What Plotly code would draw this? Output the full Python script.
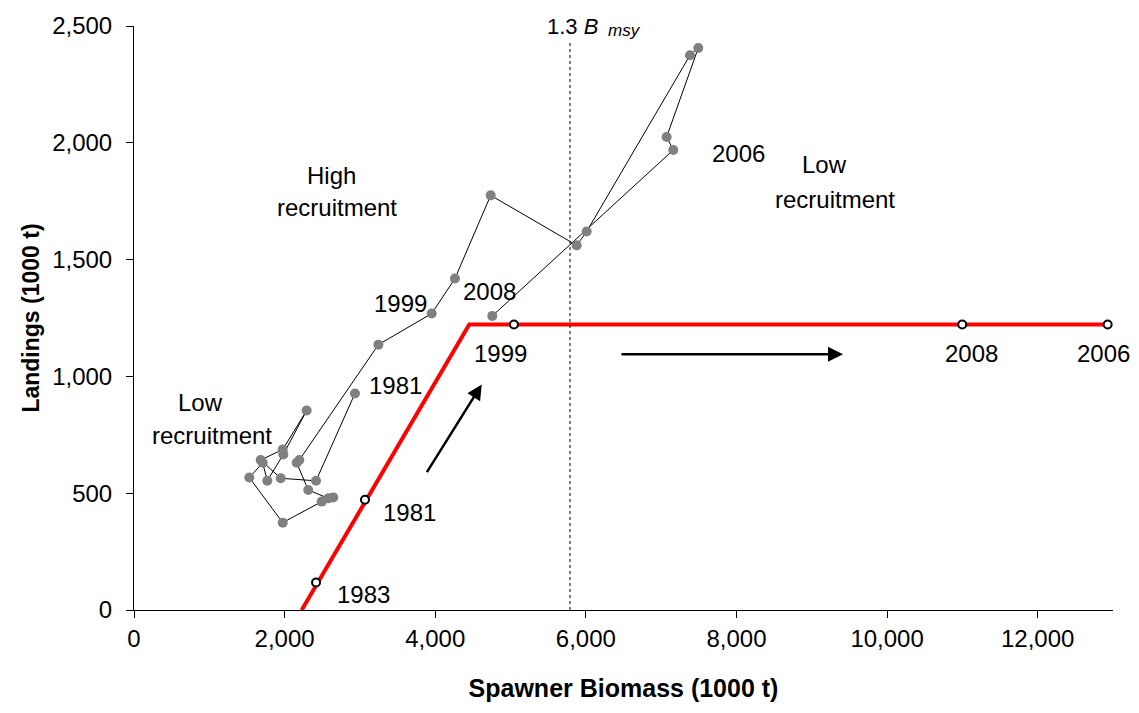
import plotly.graph_objects as go

# ---------------- data ----------------
# Observed trajectory 1981-2008: spawner biomass (1000 t) vs landings (1000 t)
years = list(range(1981, 2009))
ssb = [2934, 2417, 1948, 1682, 1975, 2293, 1983, 1770, 1709, 1531,
       1975, 2492, 2646, 2580, 2314, 2160, 2195, 3246, 3953, 4262,
       4736, 5878, 6011, 7383, 7493, 7073, 7161, 4758]
landings = [927, 553, 564, 642, 687, 854, 666, 553, 630, 567,
            374, 464, 482, 478, 514, 630, 642, 1136, 1269, 1419,
            1775, 1561, 1620, 2375, 2406, 2025, 1969, 1259]

# Harvest control rule (red line)
hcr_ssb = [2227, 4452, 12950]
hcr_landings = [0, 1222, 1222]

# Years marked on the rule
rule_years = ["1983", "1981", "1999", "2008", "2006"]
rule_ssb = [2417, 3067, 5045, 10998, 12929]
rule_landings = [118, 472, 1222, 1222, 1222]

bmsy13 = 5790

x_ticks = [0, 2000, 4000, 6000, 8000, 10000, 12000]
y_ticks = [0, 500, 1000, 1500, 2000, 2500]

FONT = "Liberation Sans, Arial, sans-serif"

fig = go.Figure()

fig.add_trace(go.Scatter(
    x=hcr_ssb, y=hcr_landings, mode="lines",
    line=dict(color="#ff0000", width=4), hoverinfo="skip", showlegend=False))

fig.add_trace(go.Scatter(
    x=ssb, y=landings, mode="lines+markers", text=years,
    line=dict(color="black", width=1),
    marker=dict(color="#808080", size=10),
    showlegend=False))

fig.add_trace(go.Scatter(
    x=rule_ssb, y=rule_landings, mode="markers", text=rule_years,
    marker=dict(color="white", size=8, line=dict(color="black", width=2)),
    showlegend=False))

# vertical dotted reference line at 1.3 Bmsy
fig.add_shape(type="line", xref="x", yref="y", x0=bmsy13, x1=bmsy13, y0=0, y1=2435,
              line=dict(color="black", width=1, dash="dot"))

ann = []
def label(text, x, y, size=24, xanchor="center"):
    ann.append(dict(text=text, x=x, y=y, xref="x", yref="y", showarrow=False,
                    xanchor=xanchor, yanchor="middle",
                    font=dict(family=FONT, size=size, color="black")))

label("High", 2620, 1862)
label("recruitment", 2702, 1721)
label("Low", 887, 890)
label("recruitment", 1865, 747, xanchor="right")
label("Low", 9171, 1905)
label("recruitment", 9315, 1756)
label("2006", 8031, 1954)
label("1999", 3545, 1313)
label("1981", 3475, 960)
label("2008", 4727, 1362)
label("1999", 4867, 1096)
label("1981", 3658, 419)
label("1983", 3045, 68)
label("2008", 11123, 1096)
label("2006", 12871, 1096)
label("1.3 <i>B</i>", 5457, 2500, size=22, xanchor="left")
label("<i>msy</i>", 6270, 2482, size=17, xanchor="left")

# arrows
for (tx, ty, hx, hy) in [(3877, 584, 4617, 965), (6453, 1095, 9415, 1095)]:
    ann.append(dict(x=hx, y=hy, ax=tx, ay=ty, xref="x", yref="y", axref="x", ayref="y",
                    text="", showarrow=True, arrowhead=2, arrowsize=1.2,
                    arrowwidth=2.5, arrowcolor="black"))

fig.update_layout(
    width=1139, height=713,
    margin=dict(l=134, r=26, t=20, b=103),
    paper_bgcolor="white", plot_bgcolor="white",
    font=dict(family=FONT, size=24, color="black"),
    annotations=ann,
    xaxis=dict(range=[0, 13000], tickvals=x_ticks, tickformat=",",
               showline=True, linecolor="black", linewidth=1,
               ticks="outside", ticklen=7, tickcolor="black", tickwidth=1,
               showgrid=False, zeroline=False,
               tickfont=dict(family=FONT, size=24),
               title=dict(text="<b>Spawner Biomass (1000 t)</b>",
                          font=dict(family=FONT, size=25), standoff=28)),
    yaxis=dict(range=[0, 2500], tickvals=y_ticks, tickformat=",",
               showline=True, linecolor="black", linewidth=1,
               ticks="outside", ticklen=7, tickcolor="black", tickwidth=1,
               showgrid=False, zeroline=False, ticklabelstandoff=9,
               tickfont=dict(family=FONT, size=24),
               title=dict(text="<b>Landings (1000 t)</b>",
                          font=dict(family=FONT, size=23), standoff=6)),
)

fig.write_html("out.html")
